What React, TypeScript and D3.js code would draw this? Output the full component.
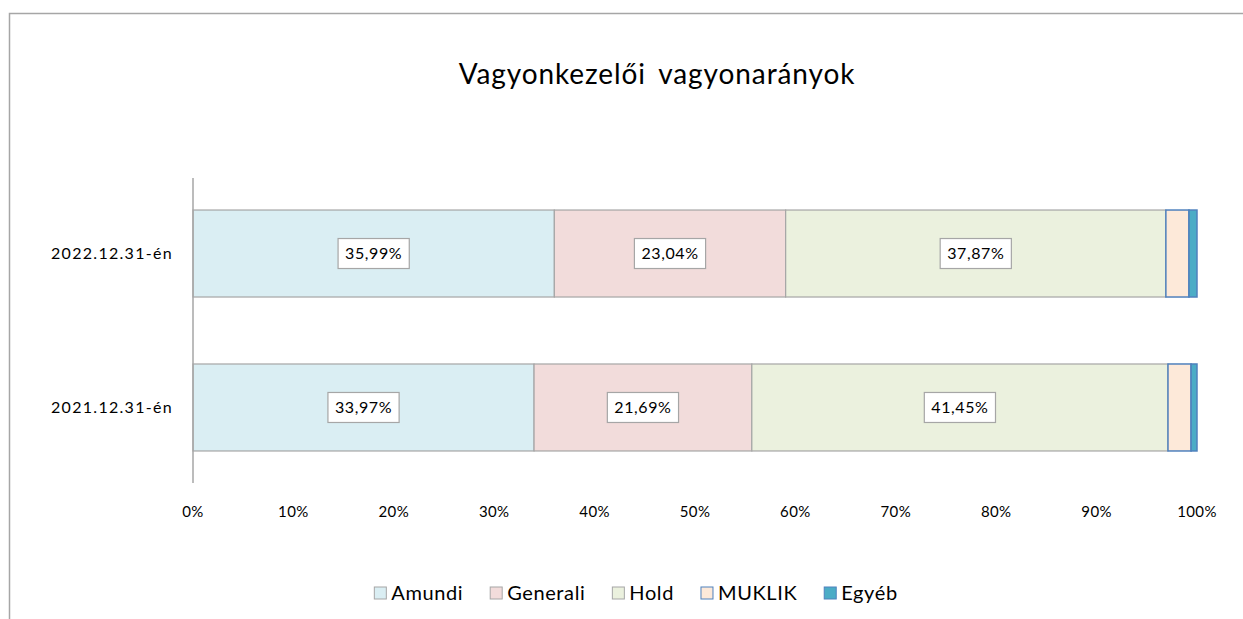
import React, { useEffect, useRef } from "react";
import * as d3 from "d3";

const title = "Vagyonkezelői vagyonarányok";
const categories = ["2022.12.31-én", "2021.12.31-én"];
const seriesNames = ["Amundi", "Generali", "Hold", "MUKLIK", "Egyéb"];
const amundi = [35.99, 33.97];
const generali = [23.04, 21.69];
const hold = [37.87, 41.45];
const muklik = [2.3, 2.3];
const egyeb = [0.8, 0.59];
const xTicks = [0, 10, 20, 30, 40, 50, 60, 70, 80, 90, 100];
const labelledSeries = [0, 1, 2];

const fills = ["#DAEEF3", "#F2DCDB", "#EBF1DE", "#FDE9D9", "#4BACC6"];
const strokes = ["#A6A6A6", "#A6A6A6", "#A6A6A6", "#4F81BD", "#4F81BD"];
const FONT = "Lato, 'Open Sans', sans-serif";

export default function App() {
  const ref = useRef<SVGSVGElement | null>(null);

  useEffect(() => {
    const svg = d3.select(ref.current);
    svg.selectAll("*").remove();
    const W = 1243, H = 619;

    // outer border
    svg.append("path").attr("d", `M9.5,${H} L9.5,13.5 L${W},13.5`)
      .attr("fill", "none").attr("stroke", "#A6A6A6").attr("stroke-width", 1.5);

    svg.append("text").attr("x", 657).attr("y", 84).attr("text-anchor", "middle")
      .attr("font-family", FONT).attr("font-size", 28).attr("letter-spacing", 0.9)
      .attr("word-spacing", 5).attr("fill", "#000").text(title);

    const x = d3.scaleLinear().domain([0, 100]).range([193, 1197]);
    const y = d3.scaleBand<string>().domain(categories).range([178, 483])
      .paddingInner(0.435).paddingOuter(0.208);

    const all = [amundi, generali, hold, muklik, egyeb];
    const data = categories.map((c, i) => {
      const o: any = { cat: c };
      seriesNames.forEach((s, j) => (o[s] = all[j][i]));
      return o;
    });
    const stacked = d3.stack<any>().keys(seriesNames)(data);

    const g = svg.append("g");
    stacked.forEach((layer, si) => {
      g.selectAll(null).data(layer).enter().append("rect")
        .attr("x", (d) => x(d[0]))
        .attr("y", (d) => y(d.data.cat)!)
        .attr("width", (d) => x(d[1]) - x(d[0]))
        .attr("height", y.bandwidth())
        .attr("fill", fills[si])
        .attr("stroke", strokes[si])
        .attr("stroke-width", si >= 3 ? 1.5 : 1.2);
    });

    // axis line
    svg.append("line").attr("x1", 193).attr("x2", 193).attr("y1", 178).attr("y2", 483)
      .attr("stroke", "#A6A6A6").attr("stroke-width", 1.5);

    // category labels
    categories.forEach((c) => {
      svg.append("text").attr("x", 173).attr("y", y(c)! + y.bandwidth() / 2)
        .attr("dy", "0.35em").attr("text-anchor", "end")
        .attr("font-family", FONT).attr("font-size", 16).attr("letter-spacing", 1.3)
        .attr("fill", "#000").text(c);
    });

    // x tick labels
    xTicks.forEach((t) => {
      svg.append("text").attr("x", x(t)).attr("y", 512).attr("dy", "0.35em")
        .attr("text-anchor", "middle").attr("font-family", FONT).attr("font-size", 15)
        .attr("letter-spacing", 0.4).attr("fill", "#000").text(`${t}%`);
    });

    // data labels
    labelledSeries.forEach((si) => {
      stacked[si].forEach((d) => {
        const cx = (x(d[0]) + x(d[1])) / 2;
        const cy = y(d.data.cat)! + y.bandwidth() / 2;
        const lg = svg.append("g");
        const txt = lg.append("text").attr("x", cx).attr("y", cy).attr("dy", "0.36em")
          .attr("text-anchor", "middle").attr("font-family", FONT).attr("font-size", 16)
          .attr("letter-spacing", 0.6)
          .attr("fill", "#000").text(d3.format(".2f")(d[1] - d[0]).replace(".", ",") + "%");
        const w = (txt.node() as SVGTextElement).getComputedTextLength();
        lg.insert("rect", "text").attr("x", cx - w / 2 - 7).attr("y", cy - 15)
          .attr("width", w + 14).attr("height", 30).attr("fill", "#fff")
          .attr("stroke", "#A6A6A6").attr("stroke-width", 1.2);
      });
    });

    // legend
    const lg = svg.append("g");
    let cursor = 0;
    const items: any[] = [];
    seriesNames.forEach((s, i) => {
      const item = lg.append("g");
      item.append("rect").attr("x", 0).attr("y", -6).attr("width", 12).attr("height", 12)
        .attr("fill", fills[i]).attr("stroke", strokes[i]).attr("stroke-width", 1);
      const t = item.append("text").attr("x", 17).attr("y", 0).attr("dy", "0.35em")
        .attr("font-family", FONT).attr("font-size", 20).attr("letter-spacing", 0.6)
        .attr("fill", "#000").text(s);
      const w = (t.node() as SVGTextElement).getComputedTextLength();
      items.push({ item, x: cursor });
      cursor += 17 + w + 27;
    });
    const total = cursor - 27;
    const start = 636 - total / 2;
    items.forEach((it) => it.item.attr("transform", `translate(${start + it.x},593)`));
  }, []);

  return (
    <svg ref={ref} width={1243} height={619} style={{ position: "absolute", left: 0, top: 0, background: "#fff" }} />
  );
}
